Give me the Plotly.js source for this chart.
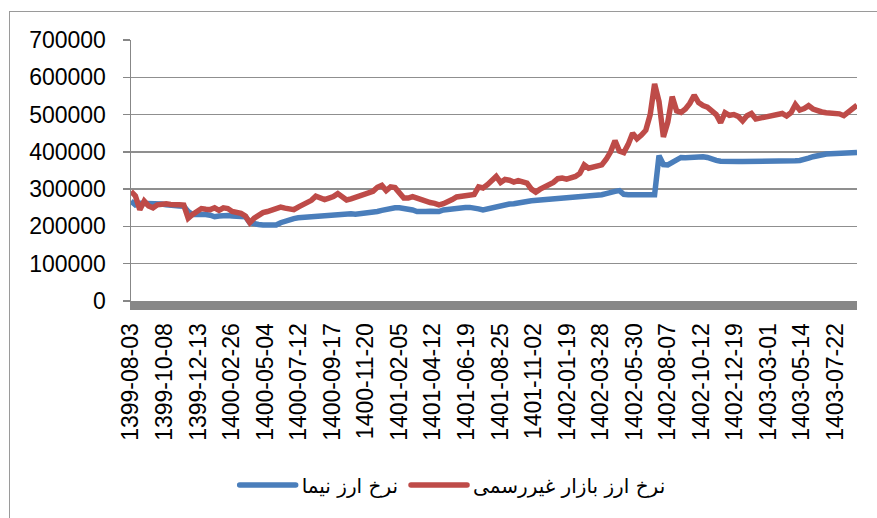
<!DOCTYPE html>
<html>
<head>
<meta charset="utf-8">
<script src="https://cdn.plot.ly/plotly-3.0.1.min.js"></script>
<style>
  html, body { margin: 0; padding: 0; background: #ffffff; }
  #frame { position: absolute; left: 9px; top: 11px; width: 900px; height: 600px; border: 1px solid #9a9a9a; box-sizing: border-box; }
  #chart { position: absolute; left: 0; top: 0; width: 877px; height: 518px; }
</style>
</head>
<body>
<div id="frame"></div>
<div id="chart"></div>
<script>
// Tick labels (Persian calendar dates)
const tickLabels = ["1399-08-03","1399-10-08","1399-12-13","1400-02-26","1400-05-04","1400-07-12","1400-09-17","1400-11-20","1401-02-05","1401-04-12","1401-06-19","1401-08-25","1401-11-02","1402-01-19","1402-03-28","1402-05-30","1402-08-07","1402-10-12","1402-12-19","1403-03-01","1403-05-14","1403-07-22"];
// samples between two consecutive tick labels
const samplesPerLabel = 7.625;

// NIMA exchange rate (blue)
const nimaRate = [
268000,258000,262000,262000,262000,263000,262000,260000,258000,256000,
256000,255000,254000,240000,232000,233000,234000,232000,230000,226000,
228000,230000,229000,228000,227000,226000,226000,210000,206000,205000,
204000,203000,202000,204000,210000,215000,219000,221000,223000,224000,
226000,228000,229000,230000,231000,232000,233000,233000,234000,234000,
234000,233000,234000,235000,237000,239000,240000,243000,246000,249000,
250000,250000,249000,247000,244000,240000,239000,240000,241000,240000,
240000,244000,246000,248000,249000,249000,251000,251000,250000,247000,
244000,247000,250000,254000,257000,258000,260000,261000,264000,266000,
267000,269000,270000,270000,271000,272000,273000,273000,275000,276000,
277000,278000,279000,280000,281000,282000,283000,285000,288000,292000,
294000,296000,286000,285000,285000,285000,285000,285000,285000,285000,
390000,366000,365000,372000,380000,385000,384000,385000,386000,387000,
387000,385000,380000,377000,375000,374000,374000,375000,374000,374000,
374000,373000,373000,373000,373000,373000,374000,374000,374000,375000,
375000,376000,377000,379000,383000,387000,390000,392000,394000,395000,
395000,396000,396000,396000,397000,398000
];

// Unofficial (free) market exchange rate (red)
const marketRate = [
294000,282000,245000,268000,255000,250000,258000,260000,261000,259000,
260000,258000,257000,222000,232000,238000,248000,246000,245000,250000,
243000,250000,248000,240000,238000,235000,228000,210000,222000,230000,
237000,240000,243000,246000,252000,249000,246000,245000,252000,258000,
264000,270000,281000,278000,272000,276000,280000,288000,279000,271000,
274000,278000,282000,286000,289000,294000,305000,310000,296000,306000,
304000,292000,276000,276000,280000,276000,271000,266000,264000,262000,
258000,261000,265000,272000,279000,280000,282000,283000,286000,306000,
303000,312000,322000,334000,318000,326000,324000,319000,323000,320000,
316000,300000,292000,300000,305000,312000,318000,328000,330000,327000,
330000,334000,342000,365000,356000,358000,360000,365000,380000,400000,
430000,402000,398000,420000,450000,435000,445000,458000,500000,582000,
535000,440000,480000,548000,510000,506000,515000,530000,552000,532000,
524000,520000,510000,500000,478000,505000,498000,500000,495000,483000,
497000,503000,488000,490000,493000,494000,496000,498000,503000,496000,
505000,527000,512000,516000,524000,515000,510000,507000,505000,505000,
505000,502000,497000,505000,515000,525000
];

const seriesNames = ["نرخ ارز نیما", "نرخ ارز بازار غیررسمی"];
const yTicks = [0,100000,200000,300000,400000,500000,600000,700000];

const xIdx = nimaRate.map((_, i) => i);
const tickVals = tickLabels.map((_, i) => i * samplesPerLabel);

const traces = [
  { x: xIdx, y: nimaRate, name: seriesNames[0], type: 'scatter', mode: 'lines',
    line: { color: '#4A7EBB', width: 5.5 } },
  { x: xIdx, y: marketRate, name: seriesNames[1], type: 'scatter', mode: 'lines',
    line: { color: '#BE4B48', width: 5.5 } }
];

const layout = {
  width: 877, height: 518,
  paper_bgcolor: 'rgba(0,0,0,0)',
  plot_bgcolor: 'rgba(0,0,0,0)',
  margin: { l: 131, r: 20, t: 40, b: 217 },
  font: { family: 'Liberation Sans, Arial, sans-serif', size: 23, color: '#000000' },
  showlegend: true,
  legend: {
    orientation: 'h', x: 0.441, y: -0.705, xanchor: 'center', yanchor: 'middle',
    font: { family: 'DejaVu Sans, sans-serif', size: 20, color: '#000000' },
    traceorder: 'normal', itemwidth: 60
  },
  xaxis: {
    range: [0, nimaRate.length - 1],
    tickmode: 'array', tickvals: tickVals, ticktext: tickLabels,
    tickangle: -90, showgrid: false, zeroline: false,
    showline: true, linecolor: '#878787', linewidth: 9,
    ticks: '', ticklabelstandoff: 4,
    tickfont: { size: 23 }
  },
  yaxis: {
    range: [0, 700000], tickmode: 'array', tickvals: yTicks,
    ticktext: yTicks.map(String),
    showgrid: true, gridcolor: '#8f8f8f', gridwidth: 1.5,
    zeroline: false, showline: true, linecolor: '#878787', linewidth: 1.5,
    ticks: 'outside', ticklen: 7, tickcolor: '#878787', tickwidth: 1.5,
    ticklabelstandoff: 12,
    tickfont: { size: 23 }
  }
};

function longerLegendLines(gd) {
  gd.querySelectorAll('.legend .legendlines path').forEach(p => {
    p.setAttribute('d', 'M8,0h56');
    p.style.strokeLinecap = 'round';
  });
}

Plotly.newPlot('chart', traces, layout, { displayModeBar: false, staticPlot: true })
  .then(gd => longerLegendLines(gd));
</script>
</body>
</html>
